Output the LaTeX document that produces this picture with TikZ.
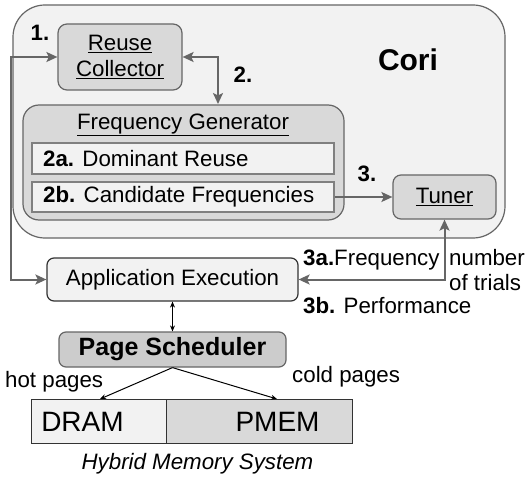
\documentclass[tikz,border=0pt]{standalone}
\usepackage{fontspec}
\setmainfont{Liberation Sans}
\usetikzlibrary{arrows.meta}
\definecolor{frame}{HTML}{666666}
\definecolor{lightbg}{HTML}{F2F2F2}
\definecolor{midbg}{HTML}{D9D9D9}
\definecolor{darkbg}{HTML}{CCCCCC}
\definecolor{boxline}{HTML}{808080}
\definecolor{darkline}{HTML}{333333}
\tikzset{
  every node/.style={font=\fontsize{22.3}{25}\selectfont, inner sep=0pt},
  gbox/.style={draw=frame, line width=1.2pt, rounded corners=#1},
  plainbox/.style={draw=boxline, line width=1.2pt, fill=lightbg},
  garrow/.style={draw=frame, line width=2pt, {Stealth[inset=2.5pt,length=11pt,width=10pt]}-{Stealth[inset=2.5pt,length=11pt,width=10pt]}},
  garrowone/.style={draw=frame, line width=2pt, -{Stealth[inset=2.5pt,length=11pt,width=10pt]}},
  karrow/.style={draw=black, line width=1pt, -{Stealth[length=6pt,width=5pt]}},
  lbl/.style={anchor=west},
  boldlbl/.style={font=\fontsize{22.3}{25}\selectfont\bfseries},
}
\begin{document}
\begin{tikzpicture}[x=1pt,y=-1pt]
\useasboundingbox (0,0) rectangle (527,481);
% Cori frame
\node[gbox=32pt, fill=lightbg, minimum width=492pt, minimum height=233pt] (cori) at (259,121.5) {};
\node[font=\fontsize{30}{34}\selectfont\bfseries] (coriname) at (408,60) {Cori};
% Reuse collector
\node[gbox=9pt, fill=midbg, minimum width=124pt, minimum height=66pt, align=center] (reuse) at (120,57) {\underline{Reuse}\\[1pt]\underline{Collector}};
% Frequency generator
\node[gbox=16pt, fill=midbg, minimum width=321pt, minimum height=115pt] (fg) at (183.5,162.5) {};
\node (fgtitle) at (183,125) {\underline{Frequency Generator}};
\node[plainbox, minimum width=302pt, minimum height=31pt] (b2a) at (183,158.5) {};
\node[lbl] (t2a) at (43,158.5) {\textbf{2a.} Dominant Reuse};
\node[plainbox, minimum width=302pt, minimum height=30pt] (b2b) at (183,197) {};
\node[lbl] (t2b) at (43,197) {\textbf{2b.} Candidate Frequencies};
% Tuner
\node[gbox=8pt, fill=midbg, minimum width=103pt, minimum height=44pt] (tuner) at (444.5,197) {\underline{Tuner}};
% Application execution
\node[draw=darkline, line width=1.2pt, rounded corners=7pt, fill=lightbg, minimum width=251pt, minimum height=43pt] (app) at (172.5,279.5) {Application Execution};
% Page scheduler
\node[gbox=7pt, fill=darkbg, minimum width=227pt, minimum height=35pt, font=\fontsize{25}{28}\selectfont\bfseries] (ps) at (172.5,349.5) {Page Scheduler};
% Memory
\node[draw=darkline, line width=1pt, fill=lightbg, minimum width=135pt, minimum height=44pt] (dram) at (98.5,421) {};
\node[draw=darkline, line width=1pt, fill=midbg, minimum width=186pt, minimum height=44pt] (pmem) at (259,421) {};
\node[font=\fontsize{28}{30}\selectfont] (dramt) at (82.5,422) {DRAM};
\node[font=\fontsize{28}{30}\selectfont] (pmemt) at (277.5,422) {PMEM};
\node[font=\fontsize{22.3}{25}\selectfont\itshape] (hms) at (197.5,464) {Hybrid Memory System};
% step labels
\node[boldlbl] (s1) at (40,33) {1.};
\node[boldlbl] (s2) at (243,75) {2.};
\node[boldlbl] (s3) at (367,174) {3.};
\node[lbl] (s3a) at (303,260) {\textbf{3a.}Frequency};
\node[lbl, align=left] (ntr) at (449,270) {number\\of trials};
\node[lbl] (s3b) at (303,306) {\textbf{3b.} Performance};
\node[lbl] (hot) at (5,382) {hot pages};
\node[lbl] (cold) at (292,377) {cold pages};
% connectors
\coordinate (fgin) at (218,104);
\coordinate (dramin) at (100,399);
\coordinate (pmemin) at (277,399);
\draw[garrow] (reuse.west) -- ++(-46,0) |- (app.west);
\draw[garrow] (reuse.east) -| (fgin);
\draw[garrowone] (b2b.east) -- (tuner.west);
\draw[garrow] (app.east) -| (tuner.south);
\draw[draw=black, line width=1pt, {Stealth[length=6pt,width=5pt]}-{Stealth[length=6pt,width=5pt]}] (app.south) -- (ps.north);
\draw[karrow] (ps.south) -- (dramin);
\draw[karrow] (ps.south) -- (pmemin);
\end{tikzpicture}
\end{document}
